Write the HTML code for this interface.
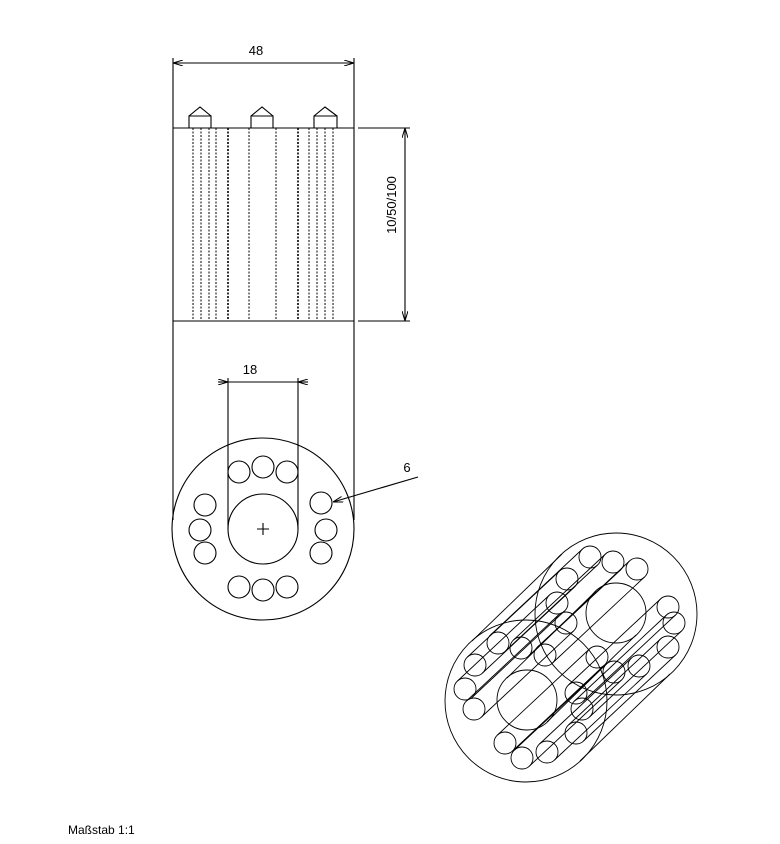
<!DOCTYPE html>
<html><head><meta charset="utf-8"><style>body{margin:0;background:#fff}svg{display:block}</style></head><body>
<svg width="780" height="844" viewBox="0 0 780 844" xmlns="http://www.w3.org/2000/svg" font-family="Liberation Sans, sans-serif">
<defs>
<marker id="a" viewBox="0 0 10 6" refX="10" refY="3" markerWidth="10" markerHeight="6" orient="auto-start-reverse" markerUnits="userSpaceOnUse"><path d="M0,0L10,3L0,6" fill="none" stroke="#000" stroke-width="1"/></marker>
</defs>
<g stroke="#000" stroke-width="1.1" fill="none">
<line x1="173" y1="58" x2="173" y2="520"/>
<line x1="354" y1="58" x2="354" y2="520"/>
<line x1="173" y1="63" x2="354" y2="63" marker-start="url(#a)" marker-end="url(#a)"/>
<line x1="173" y1="128" x2="354" y2="128"/>
<line x1="173" y1="321" x2="354" y2="321"/>
<line x1="358" y1="128" x2="410" y2="128"/>
<line x1="358" y1="321" x2="410" y2="321"/>
<line x1="405" y1="128" x2="405" y2="321" marker-start="url(#a)" marker-end="url(#a)"/>
<path d="M189,128V116H211V128M189,116L200,107L211,116"/>
<path d="M251,128V116H273V128M251,116L262,107L273,116"/>
<path d="M314,128V116H337V128M314,116L325,107L337,116"/>
<g stroke-dasharray="2,1.5" stroke-width="1">
<line x1="193" y1="128" x2="193" y2="321"/><line x1="201" y1="128" x2="201" y2="321"/>
<line x1="209" y1="128" x2="209" y2="321"/><line x1="216" y1="128" x2="216" y2="321"/>
<line x1="228" y1="128" x2="228" y2="321" stroke-width="1.6"/><line x1="249" y1="128" x2="249" y2="321"/>
<line x1="276" y1="128" x2="276" y2="321"/><line x1="298" y1="128" x2="298" y2="321" stroke-width="1.6"/>
<line x1="309" y1="128" x2="309" y2="321"/><line x1="317" y1="128" x2="317" y2="321"/>
<line x1="325" y1="128" x2="325" y2="321"/><line x1="333" y1="128" x2="333" y2="321"/>
</g>
<circle cx="263" cy="529" r="91"/>
<circle cx="263" cy="529" r="35"/>
<path d="M257,529h12M263,523v12"/>
<line x1="228" y1="378" x2="228" y2="529"/>
<line x1="298" y1="378" x2="298" y2="529"/>
<line x1="218" y1="382" x2="228" y2="382" marker-end="url(#a)"/>
<line x1="308" y1="382" x2="298" y2="382" marker-end="url(#a)"/>
<line x1="228" y1="382" x2="298" y2="382"/>
<circle cx="239" cy="472" r="11"/><circle cx="263" cy="467" r="11"/><circle cx="287" cy="472" r="11"/>
<circle cx="239" cy="587" r="11"/><circle cx="263" cy="590" r="11"/><circle cx="287" cy="587" r="11"/>
<circle cx="205" cy="505" r="11"/><circle cx="200" cy="530" r="11"/><circle cx="205" cy="553" r="11"/>
<circle cx="321" cy="503" r="11"/><circle cx="326" cy="530" r="11"/><circle cx="321" cy="553" r="11"/>
<line x1="418" y1="477" x2="333" y2="502" marker-end="url(#a)"/>
<!-- iso view -->
<g stroke-width="0.9">
<circle cx="526" cy="701" r="81"/>
<circle cx="616" cy="614" r="81"/>
<path d="M580,761L670,674M472,641L562,554"/>
<circle cx="527" cy="700" r="30"/>
<circle cx="616" cy="613" r="30"/>
<path d="M547,722L636,635M507,678L596,591"/>
<g>
<circle cx="498" cy="643" r="11"/><circle cx="590" cy="557" r="11"/><path d="M505.5,651L597.5,565M490.5,635L582.5,549"/>
<circle cx="521" cy="648" r="11"/><circle cx="613" cy="562" r="11"/><path d="M528.5,656L620.5,570M513.5,640L605.5,554"/>
<circle cx="545" cy="655" r="11"/><circle cx="637" cy="569" r="11"/><path d="M552.5,663L644.5,577M537.5,647L629.5,561"/>
<circle cx="475" cy="665" r="11"/><circle cx="567" cy="579" r="11"/><path d="M482.5,673L574.5,587M467.5,657L559.5,571"/>
<circle cx="465" cy="689" r="11"/><circle cx="557" cy="603" r="11"/><path d="M472.5,697L564.5,611M457.5,681L549.5,595"/>
<circle cx="474" cy="709" r="11"/><circle cx="566" cy="623" r="11"/><path d="M481.5,717L573.5,631M466.5,701L558.5,615"/>
<circle cx="505" cy="743" r="11"/><circle cx="597" cy="657" r="11"/><path d="M512.5,751L604.5,665M497.5,735L589.5,649"/>
<circle cx="522" cy="758" r="11"/><circle cx="614" cy="672" r="11"/><path d="M529.5,766L621.5,680M514.5,750L606.5,664"/>
<circle cx="547" cy="752" r="11"/><circle cx="639" cy="666" r="11"/><path d="M554.5,760L646.5,674M539.5,744L631.5,658"/>
<circle cx="576" cy="733" r="11"/><circle cx="668" cy="647" r="11"/><path d="M583.5,741L675.5,655M568.5,725L660.5,639"/>
<circle cx="582" cy="709" r="11"/><circle cx="674" cy="623" r="11"/><path d="M589.5,717L681.5,631M574.5,701L666.5,615"/>
<circle cx="576" cy="693" r="11"/><circle cx="668" cy="607" r="11"/><path d="M583.5,701L675.5,615M568.5,685L660.5,599"/>
</g>
</g>
</g>
<g font-size="13" fill="#000">
<text x="256" y="55" text-anchor="middle">48</text>
<text x="250" y="374" text-anchor="middle">18</text>
<text x="407" y="472" text-anchor="middle">6</text>
<text transform="translate(396,205) rotate(-90)" text-anchor="middle">10/50/100</text>
<text x="68" y="834" font-size="12">Maßstab 1:1</text>
</g>
</svg>
</body></html>
